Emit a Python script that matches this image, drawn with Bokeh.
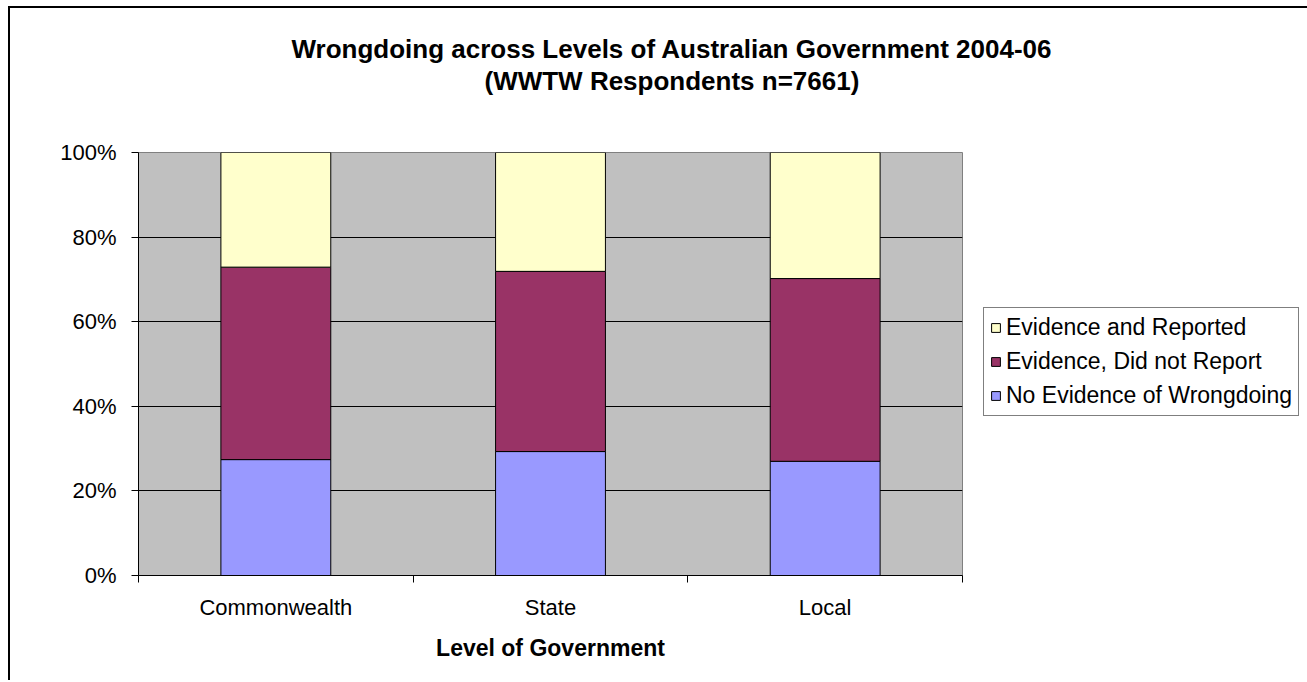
from bokeh.plotting import figure
from bokeh.models import (ColumnDataSource, Legend, LegendItem, FixedTicker,
                          PrintfTickFormatter, Title)
from bokeh.embed import file_html
from bokeh.resources import INLINE

# ---- data ----
categories = ["Commonwealth", "State", "Local"]
no_evidence = [27.4, 29.3, 27.0]
did_not_report = [45.5, 42.6, 43.2]
reported = [27.1, 28.1, 29.8]
series_names = ["No Evidence of Wrongdoing", "Evidence, Did not Report", "Evidence and Reported"]
series_colors = ["#9999FF", "#993366", "#FFFFCC"]
y_ticks = [0, 20, 40, 60, 80, 100]
title_lines = ["Wrongdoing across Levels of Australian Government 2004-06",
               "(WWTW Respondents n=7661)"]
x_title = "Level of Government"

FONT = "Liberation Sans"

xpos = [i + 0.5 for i in range(len(categories))]
source = ColumnDataSource(dict(x=xpos, s0=no_evidence, s1=did_not_report, s2=reported))

p = figure(frame_width=824, frame_height=423, x_range=(0, len(categories)), y_range=(0, 100),
           output_backend="svg", toolbar_location=None,
           min_border_left=128, min_border_right=0, min_border_top=144, min_border_bottom=105)
p.styles = {"margin-left": "8px", "margin-top": "6px",
            "border-left": "2px solid black", "border-top": "2px solid black"}

p.background_fill_color = "#C0C0C0"
p.border_fill_color = "white"
p.outline_line_color = "#808080"
p.outline_line_width = 1

renderers = p.vbar_stack(["s0", "s1", "s2"], x="x", width=0.4, source=source,
                         fill_color=series_colors, line_color="black", line_width=1)

# grid
p.xgrid.grid_line_color = None
p.ygrid.grid_line_color = "black"
p.ygrid.grid_line_width = 1
p.ygrid.ticker = FixedTicker(ticks=y_ticks)

# y axis
p.yaxis.ticker = FixedTicker(ticks=y_ticks)
p.yaxis.formatter = PrintfTickFormatter(format="%d%%")
p.yaxis.major_label_text_font = FONT
p.yaxis.major_label_text_font_size = "22px"
p.yaxis.major_label_text_color = "black"
p.yaxis.axis_line_color = "black"
p.yaxis.major_tick_line_color = "black"
p.yaxis.major_tick_out = 7
p.yaxis.major_tick_in = 0
p.yaxis.minor_tick_line_color = None
p.yaxis.major_label_standoff = 15

# x axis
p.xaxis.ticker = FixedTicker(ticks=xpos, minor_ticks=list(range(len(categories) + 1)))
p.xaxis.major_label_overrides = {x: c for x, c in zip(xpos, categories)}
p.xaxis.major_label_text_font = FONT
p.xaxis.major_label_text_font_size = "22px"
p.xaxis.major_label_text_color = "black"
p.xaxis.axis_line_color = "black"
p.xaxis.major_tick_line_color = None
p.xaxis.major_tick_out = 0
p.xaxis.major_tick_in = 0
p.xaxis.minor_tick_line_color = "black"
p.xaxis.minor_tick_out = 7
p.xaxis.minor_tick_in = 0
p.xaxis.major_label_standoff = 12
p.xaxis.axis_label = x_title
p.xaxis.axis_label_text_font = FONT
p.xaxis.axis_label_text_font_size = "23px"
p.xaxis.axis_label_text_font_style = "bold"
p.xaxis.axis_label_text_color = "black"
p.xaxis.axis_label_standoff = 12

# titles (spacer nearest the frame, then line 2, then line 1)
p.add_layout(Title(text=" ", text_font_size="10px", standoff=44), "above")
for txt, off in [(title_lines[1], 346), (title_lines[0], 153)]:
    p.add_layout(Title(text=txt, align="left", offset=off, standoff=0,
                       vertical_align="bottom",
                       text_font=FONT, text_font_size="26px",
                       text_font_style="bold", text_color="black"), "above")

# legend (reverse order), placed in right panel
items = [LegendItem(label=series_names[i], renderers=[renderers[i]]) for i in [2, 1, 0]]
legend = Legend(items=items, location=(21, 159), orientation="vertical")
legend.label_text_font = FONT
legend.label_text_font_size = "23px"
legend.label_text_color = "black"
legend.glyph_width = 11
legend.glyph_height = 11
legend.label_standoff = 5
legend.spacing = 7
legend.padding = 6
legend.margin = 0
legend.border_line_color = "black"
legend.border_line_width = 1
legend.background_fill_color = "white"
legend.background_fill_alpha = 1
p.add_layout(legend, "right")

open("out.html", "w").write(file_html(p, INLINE))
